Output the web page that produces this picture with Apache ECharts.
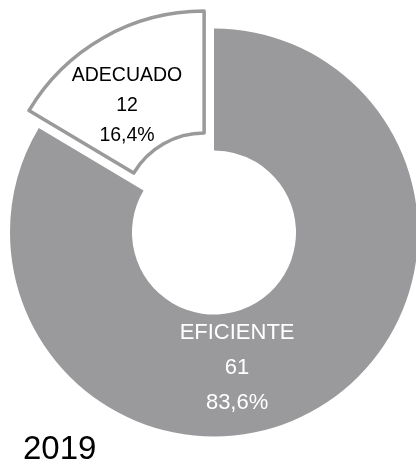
<!DOCTYPE html>
<html>
<head>
<meta charset="utf-8">
<title>2019</title>
<script src="https://cdn.jsdelivr.net/npm/echarts@6.0.0/dist/echarts.min.js"></script>
<style>
	html, body { margin: 0; padding: 0; background: #fff; }
	#main { width: 416px; height: 465px; }
</style>
</head>
<body>
<div id="main"></div>
<script>
var categories = ['EFICIENTE', 'ADECUADO'];
var values = [61, 12];
var yearLabel = '2019';

window.onload = function () {
	initPage();
};

function initPage(){
	var total = 0;
	for(var i=0;i<values.length;i++){
		total += values[i];
	}
	// 百分比用逗号做小数点
	function pct(v){
		return (v / total * 100).toFixed(1).replace('.', ',') + '%';
	}

	var pieData = [];
	for(var i=0;i<categories.length;i++){
		pieData.push({ name: categories[i], value: values[i] });
	}
	// EFICIENTE 灰色实心
	pieData[0].itemStyle = { color: '#9a9a9c', borderWidth: 0 };
	pieData[0].label = { color: '#ffffff', fontSize: 22, lineHeight: 35 };
	// ADECUADO 白色带边框，拉出
	pieData[1].selected = true;
	pieData[1].itemStyle = { color: '#ffffff', borderColor: '#9a9a9c', borderWidth: 3.5 };
	pieData[1].label = { color: '#000000', fontSize: 19.5, lineHeight: 30 };

	var myChart = echarts.init(document.getElementById('main'));
	var option = {
		animation: false,
		title: {
			text: yearLabel,
			left: 18,
			top: 428,
			textStyle: {
				fontFamily: 'Liberation Sans',
				fontSize: 33,
				fontWeight: 'normal',
				color: '#000'
			}
		},
		series: [
			{
				type: 'pie',
				center: [214, 232.5],
				radius: [82, 204],
				startAngle: 90,
				clockwise: true,
				selectedMode: 'single',
				selectedOffset: 20,
				avoidLabelOverlap: false,
				label: {
					show: true,
					position: 'inside',
					fontFamily: 'Liberation Sans',
					formatter: function (p) {
						return p.name + '\n' + p.value + '\n' + pct(p.value);
					}
				},
				labelLine: { show: false },
				labelLayout: function (p) {
					if (p.dataIndex === 0) {
						return { dx: -49, dy: 8 };
					}
					return { dx: -5, dy: 17 };
				},
				emphasis: { disabled: true },
				data: pieData
			}
		]
	};
	myChart.setOption(option);
}
</script>
</body>
</html>
